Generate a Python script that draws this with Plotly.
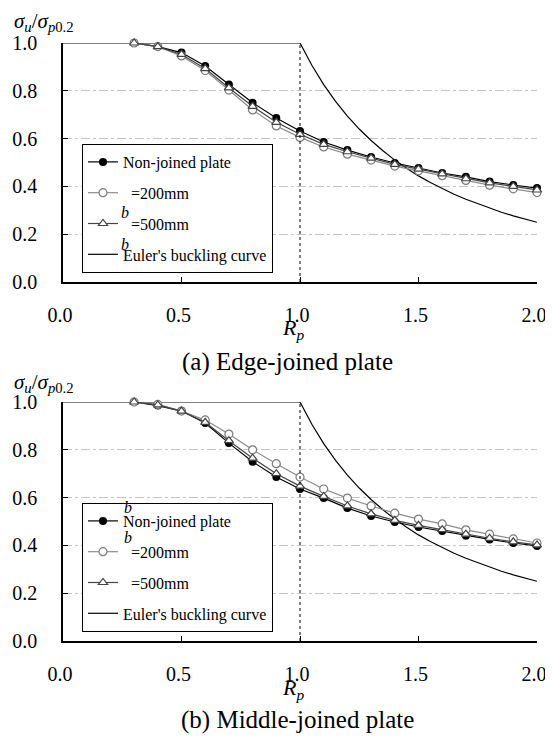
import plotly.graph_objects as go

# ---------------- data ----------------
rp = [0.3, 0.4, 0.5, 0.6, 0.7, 0.8, 0.9, 1.0, 1.1, 1.2, 1.3, 1.4, 1.5, 1.6, 1.7, 1.8, 1.9, 2.0]

edge_nonjoined = [1.0, 0.985, 0.960, 0.904, 0.826, 0.750, 0.686, 0.632, 0.586, 0.552, 0.523, 0.498, 0.477, 0.456, 0.440, 0.420, 0.406, 0.393]
edge_b200 = [1.0, 0.985, 0.946, 0.885, 0.803, 0.720, 0.653, 0.605, 0.565, 0.535, 0.510, 0.485, 0.465, 0.445, 0.425, 0.405, 0.390, 0.374]
edge_b500 = [1.0, 0.985, 0.952, 0.893, 0.812, 0.735, 0.668, 0.618, 0.576, 0.545, 0.518, 0.492, 0.472, 0.452, 0.432, 0.415, 0.400, 0.385]

mid_nonjoined = [1.0, 0.985, 0.962, 0.912, 0.828, 0.750, 0.686, 0.636, 0.598, 0.556, 0.523, 0.498, 0.477, 0.460, 0.440, 0.425, 0.410, 0.398]
mid_b200 = [1.0, 0.990, 0.962, 0.925, 0.866, 0.800, 0.742, 0.686, 0.636, 0.598, 0.565, 0.535, 0.510, 0.490, 0.465, 0.447, 0.427, 0.410]
mid_b500 = [1.0, 0.988, 0.962, 0.915, 0.838, 0.765, 0.700, 0.648, 0.605, 0.565, 0.532, 0.505, 0.484, 0.466, 0.447, 0.430, 0.415, 0.402]

euler_x = [0.0, 1.0, 1.05, 1.1, 1.15, 1.2, 1.25, 1.3, 1.35, 1.4, 1.45, 1.5, 1.55, 1.6, 1.65, 1.7, 1.75, 1.8, 1.85, 1.9, 1.95, 2.0]
euler_y = [1.0, 1.0, 0.907, 0.826, 0.756, 0.694, 0.640, 0.592, 0.549, 0.510, 0.476, 0.444, 0.416, 0.391, 0.367, 0.346, 0.327, 0.309, 0.292, 0.277, 0.263, 0.250]

x_ticks = [0.0, 0.5, 1.0, 1.5, 2.0]
x_tick_labels = ["0.0", "0.5", "1.0", "1.5", "2.0"]
y_ticks = [0.0, 0.2, 0.4, 0.6, 0.8, 1.0]
y_tick_labels = ["0.0", "0.2", "0.4", "0.6", "0.8", "1.0"]

captions = ["(a) Edge-joined plate", "(b) Middle-joined plate"]
names = ["Non-joined plate", "\u2002=200mm", "\u2002=500mm", "Euler's buckling curve"]

# ---------------- layout helpers ----------------
# the page body has an 8px margin, so the figure starts at (8, 8) in the window
OFF = 8
W, H = 553 - OFF, 738 - OFF
PLOT_L, PLOT_R, PLOT_T, PLOT_B = 63, 537, 43, 641   # screen px of plot block
L = PLOT_L - OFF
R = W - (PLOT_R - OFF)
T = PLOT_T - OFF
B = H - (PLOT_B - OFF)
PW = W - L - R
PH = H - T - B
FONT = "Liberation Serif"


def px(xs):
    return (xs - PLOT_L) / PW


def py(ys):
    return (PLOT_B - ys) / PH


top_dom = [py(282), 1.0]
bot_dom = [0.0, py(402)]

fig = go.Figure()

panels = [
    ("x", "y", edge_nonjoined, edge_b200, edge_b500, "legend"),
    ("x2", "y2", mid_nonjoined, mid_b200, mid_b500, "legend2"),
]

for xa, ya, nj, b2, b5, lg in panels:
    fig.add_trace(go.Scatter(
        x=euler_x, y=euler_y, mode="lines", name=names[3], xaxis=xa, yaxis=ya,
        line=dict(color="black", width=1.2), legend=lg, legendrank=4,
        legendgroup=lg + "e", cliponaxis=False))
    fig.add_trace(go.Scatter(
        x=rp, y=nj, mode="lines+markers", name=names[0], xaxis=xa, yaxis=ya,
        line=dict(color="black", width=1.2),
        marker=dict(symbol="circle", size=8, color="black"),
        legend=lg, legendrank=1, legendgroup=lg + "a", cliponaxis=False))
    fig.add_trace(go.Scatter(
        x=rp, y=b2, mode="lines+markers", name=names[1], xaxis=xa, yaxis=ya,
        line=dict(color="#8c8c8c", width=1.2),
        marker=dict(symbol="circle", size=8, color="white",
                    line=dict(color="#7a7a7a", width=1.2)),
        legend=lg, legendrank=2, legendgroup=lg + "b", cliponaxis=False))
    fig.add_trace(go.Scatter(
        x=rp, y=b5, mode="lines+markers", name=names[2], xaxis=xa, yaxis=ya,
        line=dict(color="#444444", width=1.2),
        marker=dict(symbol="triangle-up", size=8, color="white",
                    line=dict(color="#444444", width=1.2)),
        legend=lg, legendrank=3, legendgroup=lg + "c", cliponaxis=False))

axis_common = dict(
    showline=True, linecolor="black", linewidth=1.5, mirror=False,
    ticks="inside", ticklen=5, tickcolor="black", tickwidth=1.2,
    tickfont=dict(family=FONT, size=20, color="black"), zeroline=False,
    automargin=False,
)

xaxis_style = dict(axis_common, range=[0, 2.0], tickvals=x_ticks, ticktext=x_tick_labels,
                   showgrid=False, ticklabelstandoff=14, ticklabelshift=-3)
yaxis_style = dict(axis_common, range=[0, 1.0], tickvals=y_ticks, ticktext=y_tick_labels,
                   showgrid=True, gridcolor="#c4c4c4", gridwidth=1, griddash="dashdot",
                   ticklabelstandoff=20)

legend_style = dict(
    x=px(82), xanchor="left", bgcolor="white", bordercolor="black", borderwidth=1,
    font=dict(family=FONT, size=16, color="black"), tracegroupgap=7,
    traceorder="grouped", itemwidth=30,
)

fig.update_layout(
    width=W, height=H,
    margin=dict(l=L, r=R, t=T, b=B, autoexpand=False),
    plot_bgcolor="white", paper_bgcolor="white",
    font=dict(family=FONT, color="black"),
    showlegend=True,
    xaxis=dict(xaxis_style, domain=[0, 1], anchor="y"),
    yaxis=dict(yaxis_style, domain=top_dom, anchor="x"),
    xaxis2=dict(xaxis_style, domain=[0, 1], anchor="y2"),
    yaxis2=dict(yaxis_style, domain=bot_dom, anchor="x2"),
    legend=dict(legend_style, y=py(144), yanchor="top"),
    legend2=dict(legend_style, y=py(503), yanchor="top"),
)

# dotted vertical line at Rp = 1
for xa, ya in [("x", "y"), ("x2", "y2")]:
    fig.add_shape(type="line", xref=xa, yref=ya, x0=1.0, x1=1.0, y0=0, y1=1.0,
                  line=dict(color="black", width=1, dash="dot"))

ann = []
ylab = "<i>σ<sub>u</sub></i>/<i>σ</i><sub><i>p</i>0.2</sub>"
for yy in [22, 383]:
    ann.append(dict(text=ylab, x=px(12), y=py(yy), xanchor="left", yanchor="middle",
                    font=dict(family=FONT, size=21, color="black")))
for yy in [329, 689]:
    ann.append(dict(text="<i>R<sub>p</sub></i>", x=px(293), y=py(yy), xanchor="center",
                    yanchor="middle", font=dict(family=FONT, size=22, color="black")))
ann.append(dict(text=captions[0], x=px(287), y=py(362), xanchor="center", yanchor="middle",
                font=dict(family=FONT, size=25, color="black")))
ann.append(dict(text=captions[1], x=px(297), y=py(720), xanchor="center", yanchor="middle",
                font=dict(family=FONT, size=25, color="black")))
for xx, yy in [(125, 212), (125, 244), (128, 507), (128, 537)]:
    ann.append(dict(text="<i>b</i>", x=px(xx), y=py(yy), xanchor="center", yanchor="middle",
                    font=dict(family=FONT, size=16, color="black")))
for a in ann:
    a.update(xref="paper", yref="paper", showarrow=False)
fig.update_layout(annotations=ann)

fig.write_html("out.html")
